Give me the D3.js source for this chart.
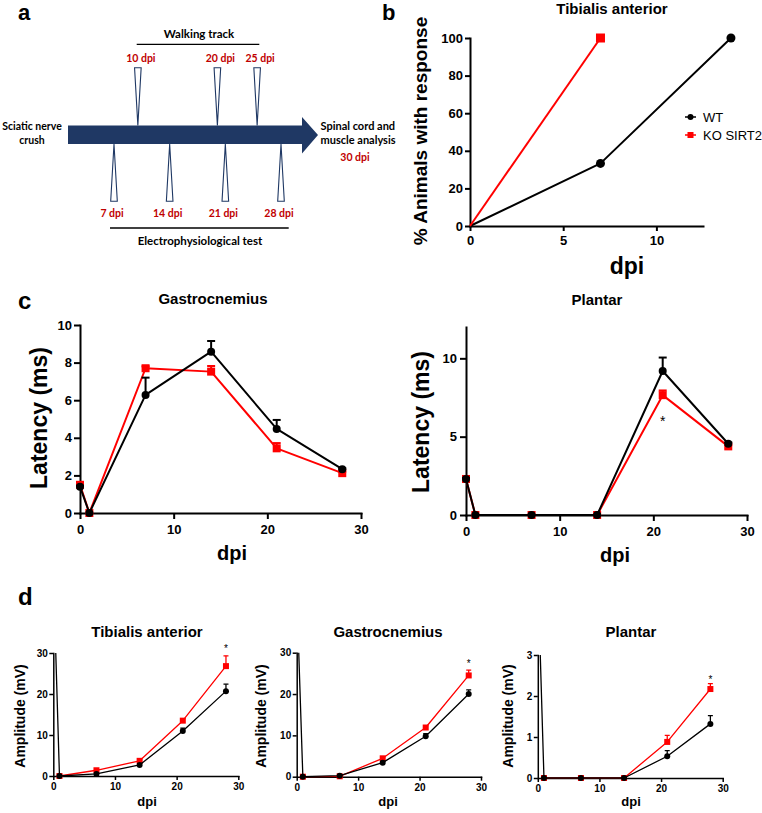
<!DOCTYPE html>
<html><head><meta charset="utf-8">
<script src="https://cdn.jsdelivr.net/npm/d3@7"></script>
<style>
body{margin:0;background:#fff}
svg{display:block}
</style>
</head><body>
<svg id="fig" width="762" height="813"></svg>
<script>
// ---------------- DATA ----------------
// Panel a: timeline (days post injury)
const walkDays = [10, 20, 25];
const ephysDays = [7, 14, 21, 28];

// Panel b: % animals with response (Tibialis anterior)
const bDpiWT = [0, 7, 14];
const bWT = [0, 33.3, 100];
const bDpiKO = [0, 7];
const bKO = [0, 100];

// Panel c: latency (ms)
const dpiC = [0, 1, 7, 14, 21, 28];
const cGasWT = [1.4, 0, 6.28, 8.58, 4.47, 2.33];
const cGasWTerr = [0.05, 0, 0.92, 0.57, 0.48, 0.05];
const cGasKO = [1.5, 0, 7.7, 7.52, 3.44, 2.12];
const cGasKOerr = [0.05, 0, 0.1, 0.3, 0.28, 0.08];
const cPlaWT = [2.3, 0, 0, 0, 9.19, 4.55];
const cPlaWTerr = [0.05, 0, 0, 0, 0.86, 0.08];
const cPlaKO = [2.3, 0, 0, 0, 7.65, 4.38];
const cPlaKOerr = [0.05, 0, 0, 0, 0.3, 0.08];

// Panel d: amplitude (mV) — value at 0 dpi lies far above the axis (clipped)
const dpiD = [0, 1, 7, 14, 21, 28];
const dTaWT = [50, 0, 0.5, 2.7, 11.0, 20.7];
const dTaWTerr = [0, 0, 0.2, 0.3, 0.7, 1.7];
const dTaKO = [null, 0, 1.4, 3.7, 13.5, 26.8];
const dTaKOerr = [0, 0, 0.2, 0.3, 0.5, 2.5];
const dGasWT = [45, 0, 0.25, 3.4, 9.8, 20.0];
const dGasWTerr = [0, 0, 0.1, 0.3, 0.6, 1.0];
const dGasKO = [null, 0, 0.1, 4.45, 11.9, 24.5];
const dGasKOerr = [0, 0, 0, 0.3, 0.4, 1.3];
const dPlaWT = [5, 0, 0, 0, 0.53, 1.32];
const dPlaWTerr = [0, 0, 0, 0, 0.14, 0.2];
const dPlaKO = [null, 0, 0, 0, 0.88, 2.17];
const dPlaKOerr = [0, 0, 0, 0, 0.16, 0.13];

// Tick labels
const bXTicks = [0, 5, 10];
const bYTicks = [0, 20, 40, 60, 80, 100];
const cXTicks = [0, 10, 20, 30];
const cGasYTicks = [0, 2, 4, 6, 8, 10];
const cPlaYTicks = [0, 5, 10];
const dXTicks = [0, 10, 20, 30];
const dYTicks = [0, 10, 20, 30];
const dPlaYTicks = [0, 1, 2, 3];

// ---------------- DRAW ----------------
const svg = d3.select("#fig");
const ARIAL = "'Liberation Sans', Arial, sans-serif";
const CAL = "Lato, 'Open Sans', sans-serif";
const RED = "#ff0000";
const NAVY = "#1f3864";
const DRED = "#c00000";

function txt(x, y, s, o = {}) {
  const t = svg.append("text").attr("x", x).attr("y", y).text(s)
    .attr("font-family", o.ff || ARIAL).attr("font-size", o.fs || 12)
    .attr("font-weight", o.fw || "bold").attr("fill", o.fill || "#000")
    .attr("text-anchor", o.anchor || "start");
  if (o.rot) t.attr("x", null).attr("y", null).attr("transform", `translate(${x},${y}) rotate(-90)`);
  return t;
}

// ---- Panel a ----
txt(18, 20, "a", {fs: 22});
const tx = d3.scaleLinear().domain([7, 28]).range([114, 281]);
svg.append("path").attr("fill", NAVY)
  .attr("d", "M68,125.5 L302,125.5 L302,117 L318,135 L302,153.5 L302,144 L68,144 Z");
svg.selectAll(".wt").data(walkDays).enter().append("path")
  .attr("fill", "#fff").attr("stroke", NAVY).attr("stroke-width", 1.1)
  .attr("d", d => `M${tx(d)-3.3},67.7 L${tx(d)+3.3},67.7 L${tx(d)},125.5 Z`);
svg.selectAll(".wl").data(walkDays).enter().append("text")
  .attr("x", d => tx(d) + 3).attr("y", 62).text(d => d + " dpi")
  .attr("font-family", CAL).attr("font-size", 10.5).attr("font-weight", "bold")
  .attr("fill", DRED).attr("text-anchor", "middle");
svg.selectAll(".et").data(ephysDays).enter().append("path")
  .attr("fill", "#fff").attr("stroke", NAVY).attr("stroke-width", 1.1)
  .attr("d", d => `M${tx(d)},144 L${tx(d)-3.3},201.3 L${tx(d)+3.3},201.3 Z`);
svg.selectAll(".el").data(ephysDays).enter().append("text")
  .attr("x", d => tx(d) - 2).attr("y", 216.5).text(d => d + " dpi")
  .attr("font-family", CAL).attr("font-size", 10.5).attr("font-weight", "bold")
  .attr("fill", DRED).attr("text-anchor", "middle");
txt(199, 38, "Walking track", {ff: CAL, fs: 11.5, anchor: "middle"});
svg.append("line").attr("x1", 136.7).attr("x2", 259.3).attr("y1", 44.3).attr("y2", 44.3)
  .attr("stroke", "#000").attr("stroke-width", 1.3);
svg.append("line").attr("x1", 110).attr("x2", 288.7).attr("y1", 228).attr("y2", 228)
  .attr("stroke", "#000").attr("stroke-width", 1.3);
txt(200, 245, "Electrophysiological test", {ff: CAL, fs: 11.5, anchor: "middle"});
txt(32, 129.5, "Sciatic nerve", {ff: CAL, fs: 10.5, anchor: "middle"});
txt(32, 143.5, "crush", {ff: CAL, fs: 10.5, anchor: "middle"});
txt(320.5, 129.5, "Spinal cord and", {ff: CAL, fs: 11});
txt(320.5, 143.5, "muscle analysis", {ff: CAL, fs: 11});
txt(355, 160.5, "30 dpi", {ff: CAL, fs: 10.5, fill: DRED, anchor: "middle"});

// ---- generic chart panel ----
let clipId = 0;
function panel(cfg) {
  const {x, y} = cfg;
  const g = svg.append("g");
  const x0 = x.range()[0], y0 = y.range()[0];
  const fmt = d3.format("~g");
  const xa = g.append("g").attr("transform", `translate(0,${y0})`)
    .call(d3.axisBottom(x).tickValues(cfg.xTicks).tickFormat(fmt).tickSize(cfg.tl).tickSizeOuter(0).tickPadding(cfg.xpad));
  const ya = g.append("g").attr("transform", `translate(${x0},0)`)
    .call(d3.axisLeft(y).tickValues(cfg.yTicks).tickFormat(fmt).tickSize(cfg.tl).tickSizeOuter(0).tickPadding(cfg.ypad));
  [xa, ya].forEach(a => {
    a.attr("font-family", ARIAL).attr("font-size", cfg.fs).attr("font-weight", "bold");
    a.select(".domain").attr("stroke-width", cfg.aw).attr("stroke-linecap", "square").attr("stroke", "#000");
    a.selectAll(".tick line").attr("stroke-width", cfg.aw).attr("stroke", "#000");
    a.selectAll(".tick text").attr("fill", "#000");
  });
  const pg = g.append("g");
  if (cfg.clip) {
    const id = "clip" + (clipId++);
    const yt = y.range()[1];
    g.append("clipPath").attr("id", id).append("rect")
      .attr("x", x0 - 20).attr("y", yt).attr("width", x.range()[1] - x0 + 60).attr("height", y0 - yt + 30);
    pg.attr("clip-path", `url(#${id})`);
  }
  cfg.series.forEach(s => {
    const pts = s.dpi.map((d, i) => ({d, v: s.vals[i], e: s.errs ? s.errs[i] : 0}))
      .filter(p => p.v !== null);
    pg.append("path").datum(pts).attr("fill", "none").attr("stroke", s.color)
      .attr("stroke-width", cfg.lw).attr("stroke-linejoin", "round")
      .attr("d", d3.line().x(p => x(p.d)).y(p => y(p.v)));
    pts.filter(p => p.e > 0).forEach(p => {
      pg.append("line").attr("x1", x(p.d)).attr("x2", x(p.d)).attr("y1", y(p.v)).attr("y2", y(p.v + p.e))
        .attr("stroke", s.color).attr("stroke-width", cfg.ew);
      pg.append("line").attr("x1", x(p.d) - cfg.cap).attr("x2", x(p.d) + cfg.cap)
        .attr("y1", y(p.v + p.e)).attr("y2", y(p.v + p.e))
        .attr("stroke", s.color).attr("stroke-width", cfg.ew);
    });
    const mpts = cfg.noOriginMark ? pts.filter(p => !(p.d === 0 && p.v === 0)) : pts;
    if (s.marker === "circle") {
      pg.selectAll(null).data(mpts).enter().append("circle")
        .attr("cx", p => x(p.d)).attr("cy", p => y(p.v)).attr("r", cfg.r).attr("fill", s.color);
    } else {
      pg.selectAll(null).data(mpts).enter().append("rect")
        .attr("x", p => x(p.d) - cfg.sq / 2).attr("y", p => y(p.v) - cfg.sq / 2)
        .attr("width", cfg.sq).attr("height", cfg.sq).attr("fill", s.color);
    }
  });
  (cfg.stars || []).forEach(st => {
    g.append("text").attr("x", x(st[0])).attr("y", y(st[1]) + cfg.starFs * 0.55)
      .attr("text-anchor", "middle").attr("font-family", ARIAL).attr("font-size", cfg.starFs)
      .attr("fill", "#000").text("*");
  });
  return g;
}

// ---- Panel b ----
txt(382, 20, "b", {fs: 22});
txt(612, 14, "Tibialis anterior", {fs: 15, anchor: "middle"});
panel({
  x: d3.scaleLinear().domain([0, 12.5]).range([470, 703]),
  y: d3.scaleLinear().domain([0, 100]).range([226, 38]),
  xTicks: bXTicks, yTicks: bYTicks, tl: 5, xpad: 5, ypad: 2, fs: 13, aw: 2,
  lw: 2, ew: 2, cap: 4, r: 4.5, sq: 9, noOriginMark: true,
  series: [
    {dpi: bDpiWT, vals: bWT, color: "#000", marker: "circle"},
    {dpi: bDpiKO, vals: bKO, color: RED, marker: "square"}
  ]
});
txt(427, 131, "% Animals with response", {fs: 19, anchor: "middle", rot: true});
txt(627, 273.5, "dpi", {fs: 23, anchor: "middle"});
[["WT", "#000", "circle", 117], ["KO SIRT2", RED, "square", 135]].forEach(([lab, col, m, ly]) => {
  svg.append("line").attr("x1", 685).attr("x2", 696).attr("y1", ly).attr("y2", ly)
    .attr("stroke", col).attr("stroke-width", 1.5);
  if (m === "circle") svg.append("circle").attr("cx", 690.5).attr("cy", ly).attr("r", 3).attr("fill", col);
  else svg.append("rect").attr("x", 687.5).attr("y", ly - 3).attr("width", 6).attr("height", 6).attr("fill", col);
  txt(703, ly + 4.7, lab, {fs: 13, fw: "normal"});
});

// ---- Panel c ----
txt(18, 309, "c", {fs: 24});
txt(213, 304, "Gastrocnemius", {fs: 15, anchor: "middle"});
panel({
  x: d3.scaleLinear().domain([0, 30]).range([80, 361]),
  y: d3.scaleLinear().domain([0, 10]).range([513, 325]),
  xTicks: cXTicks, yTicks: cGasYTicks, tl: 6, xpad: 6, ypad: 2, fs: 13, aw: 2,
  lw: 2, ew: 2, cap: 4, r: 4, sq: 8,
  series: [
    {dpi: dpiC, vals: cGasKO, errs: cGasKOerr, color: RED, marker: "square"},
    {dpi: dpiC, vals: cGasWT, errs: cGasWTerr, color: "#000", marker: "circle"}
  ]
});
txt(47, 418, "Latency (ms)", {fs: 23, anchor: "middle", rot: true});
txt(232, 559.5, "dpi", {fs: 20, anchor: "middle"});

txt(597, 305, "Plantar", {fs: 15, anchor: "middle"});
panel({
  x: d3.scaleLinear().domain([0, 30]).range([466, 747]),
  y: d3.scaleLinear().domain([0, 12]).range([515, 327]),
  xTicks: cXTicks, yTicks: cPlaYTicks, tl: 6, xpad: 6, ypad: 3, fs: 13, aw: 2,
  lw: 2, ew: 2, cap: 4, r: 4, sq: 8, starFs: 14,
  stars: [[21, 6.2]],
  series: [
    {dpi: dpiC, vals: cPlaKO, errs: cPlaKOerr, color: RED, marker: "square"},
    {dpi: dpiC, vals: cPlaWT, errs: cPlaWTerr, color: "#000", marker: "circle"}
  ]
});
txt(429, 422, "Latency (ms)", {fs: 23, anchor: "middle", rot: true});
txt(615, 562, "dpi", {fs: 20, anchor: "middle"});

// ---- Panel d ----
txt(18, 605, "d", {fs: 24});
const dPanels = [
  {title: "Tibialis anterior", tx: 147, x0: 53.3, x1: 238.3, y0: 776, y1: 653, dom: 30, yt: dYTicks,
   wt: dTaWT, wte: dTaWTerr, ko: dTaKO, koe: dTaKOerr, star: 31.5, lx: 25, dx: 147},
  {title: "Gastrocnemius", tx: 388, x0: 296.7, x1: 481, y0: 776.7, y1: 652.7, dom: 30, yt: dYTicks,
   wt: dGasWT, wte: dGasWTerr, ko: dGasKO, koe: dGasKOerr, star: 27.8, lx: 266, dx: 388},
  {title: "Plantar", tx: 631, x0: 537.8, x1: 722.7, y0: 778, y1: 655, dom: 3, yt: dPlaYTicks,
   wt: dPlaWT, wte: dPlaWTerr, ko: dPlaKO, koe: dPlaKOerr, star: 2.46, lx: 513, dx: 631}
];
dPanels.forEach(p => {
  txt(p.tx, 637, p.title, {fs: 15, anchor: "middle"});
  panel({
    x: d3.scaleLinear().domain([0, 30]).range([p.x0, p.x1]),
    y: d3.scaleLinear().domain([0, p.dom]).range([p.y0, p.y1]),
    xTicks: dXTicks, yTicks: p.yt, tl: 4, xpad: 3, ypad: 1.5, fs: 10, aw: 1.5,
    lw: 1.3, ew: 1.3, cap: 2.5, r: 3, sq: 6, starFs: 10, clip: true,
    stars: [[28, p.star]],
    series: [
      {dpi: dpiD, vals: p.ko, errs: p.koe, color: RED, marker: "square"},
      {dpi: dpiD, vals: p.wt, errs: p.wte, color: "#000", marker: "circle"}
    ]
  });
  txt(p.lx, 716, "Amplitude (mV)", {fs: 14, anchor: "middle", rot: true});
  txt(p.dx, 805.5, "dpi", {fs: 13, anchor: "middle"});
});
</script>
</body></html>
